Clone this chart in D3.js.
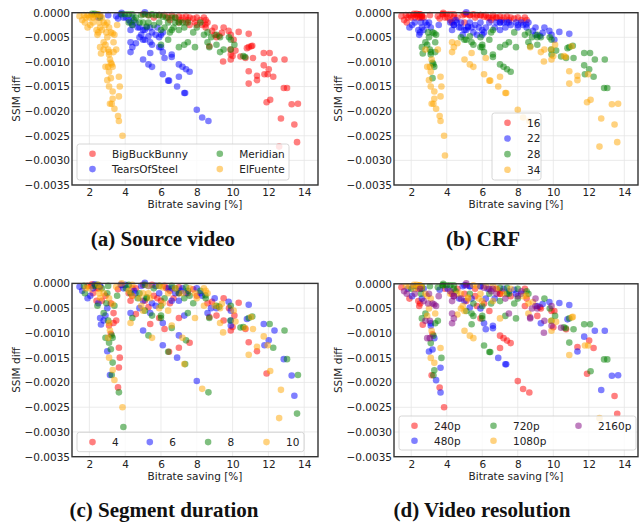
<!DOCTYPE html>
<html>
<head>
<meta charset="utf-8">
<script src="https://cdn.jsdelivr.net/npm/d3@7"></script>
<style>
body { margin: 0; background: #fff; }
svg text { font-family: "DejaVu Sans", sans-serif; fill: #222; }
</style>
</head>
<body>
<div id="drawing"></div>
<script>
// one row per encoding: [bitrate saving %, SSIM diff, CRF, segment duration s, resolution p]
const bigBuckBunny = [
    [5.0,-0.00003,16,4,480], [5.3,-0.00005,16,6,480], [5.6,-0.0001,16,8,240], [5.9,-0.00005,16,10,480],
    [6.2,-0.00005,16,4,1080], [6.4,-0.0001,16,6,2160], [6.6,-0.00005,16,8,1080], [6.8,-0.0001,16,10,240],
    [7.0,-0.00008,16,4,720], [7.2,-0.0001,16,6,480], [7.4,-0.00008,16,8,720], [7.6,-0.0001,16,10,1080],
    [7.8,-0.00012,16,4,480], [8.0,-0.0001,16,6,720], [8.2,-0.00015,16,8,2160], [8.4,-0.0001,16,10,240],
    [6.5,-0.00015,16,4,2160], [7.1,-0.00015,16,6,240], [7.5,-0.00015,16,8,480], [8.5,-0.00015,16,10,720],
    [7.0,-0.0002,22,4,240], [7.4,-0.0002,22,6,720], [7.6,-0.00025,22,8,240], [7.9,-0.0002,22,10,480],
    [8.0,-0.00025,22,4,2160], [8.3,-0.00025,22,6,1080], [8.5,-0.0003,22,8,240], [8.6,-0.0002,22,10,720],
    [8.85,-0.00037,22,4,1080], [9.0,-0.0003,22,6,2160], [9.25,-0.00047,22,8,240], [9.4,-0.00041,22,10,480],
    [9.5,-0.0003,22,4,720], [9.78,-0.00037,22,6,480], [9.9,-0.00045,22,8,2160], [10.06,-0.00055,22,10,240],
    [10.34,-0.00039,22,4,480], [10.9,-0.00043,22,6,480], [9.0,-0.00045,22,10,2160], [8.48,-0.00024,22,8,1080],
    [8.7,-0.00068,28,4,2160], [9.1,-0.0005,28,6,2160], [9.88,-0.00075,28,8,1080], [9.9,-0.00085,28,6,2160],
    [10.16,-0.00077,28,10,1080], [10.44,-0.00089,28,8,2160], [10.72,-0.00092,28,4,240], [10.8,-0.00072,28,6,480],
    [11.1,-0.00067,28,8,1080], [10.9,-0.0007,28,8,720], [11.14,-0.00092,28,10,720], [11.74,-0.00082,28,6,720],
    [12.07,-0.00082,28,8,720], [12.34,-0.00095,28,6,480], [12.9,-0.00095,28,8,480], [11.74,-0.00107,28,10,480],
    [12.02,-0.00115,28,6,240], [11.78,-0.00125,28,6,1080], [12.27,-0.0013,28,8,240], [12.86,-0.00153,28,6,720],
    [13.04,-0.00153,28,8,720],
    [9.47,-0.00099,34,10,2160], [9.9,-0.00095,34,4,1080], [10.0,-0.00088,34,4,240], [10.9,-0.00119,34,4,720],
    [10.9,-0.00144,34,10,1080], [11.36,-0.00128,34,10,240], [11.36,-0.00137,34,4,480], [11.96,-0.00125,34,10,1080],
    [11.9,-0.00182,34,4,240], [12.1,-0.00177,34,10,720], [12.7,-0.00215,34,10,480], [12.6,-0.00272,34,10,1080],
    [13.3,-0.00186,34,6,480], [13.65,-0.00185,34,8,480], [13.45,-0.00227,34,6,240], [13.6,-0.00263,34,8,240],
    [11.04,-0.00068,34,10,1080]
];
const tearsOfSteel = [
    [2.5,-0.0001,16,4,2160], [2.6,-0.00007,16,6,1080], [3.05,-0.00005,16,8,720], [3.5,-0.00007,16,10,720],
    [3.6,-0.00012,16,4,480], [3.9,-0.0001,16,6,240], [4.05,-0.0001,16,8,480], [4.2,-0.00015,16,10,2160],
    [4.4,-0.0001,16,4,720], [3.75,-0.00003,16,6,720], [4.3,-0.0002,16,8,240], [3.8,0.0,16,10,720],
    [4.4,-0.00025,22,4,2160], [4.57,-0.0002,22,6,1080], [4.7,-0.0003,22,8,480], [4.8,-0.0003,22,10,2160],
    [5.0,-0.00035,22,6,480], [5.1,-0.00035,22,4,240], [5.2,-0.0003,22,8,1080], [5.4,-0.0003,22,10,480],
    [5.5,-0.0004,22,6,720], [5.8,-0.0003,22,4,1080], [6.0,-0.00045,22,8,720], [6.1,-0.0004,22,10,240],
    [4.3,-0.00035,22,4,2160], [4.9,-0.00045,22,10,1080], [5.7,-0.00045,22,6,240], [5.1,0.00001,22,6,2160],
    [4.8,-0.0005,28,6,1080], [5.0,-0.00055,28,10,1080], [5.1,-0.00055,28,8,720], [5.3,-0.00048,28,4,480],
    [5.4,-0.0006,28,6,720], [5.5,-0.00065,28,8,720], [5.9,-0.0005,28,10,480], [5.9,-0.0007,28,4,240],
    [6.0,-0.0007,28,8,720], [6.1,-0.0008,28,6,480], [6.6,-0.00085,28,10,480], [6.6,-0.0009,28,8,480],
    [7.0,-0.00105,28,6,240], [7.2,-0.0011,28,10,240], [7.4,-0.00115,28,8,240], [7.6,-0.0012,28,4,240],
    [4.3,-0.0006,34,6,2160], [4.4,-0.0007,34,8,2160], [4.3,-0.0008,34,10,2160], [4.6,-0.00062,34,4,1080],
    [5.0,-0.00095,34,6,1080], [5.3,-0.00105,34,8,1080], [5.5,-0.0011,34,10,1080], [6.1,-0.00125,34,6,720],
    [6.4,-0.00138,34,8,720], [6.45,-0.00138,34,4,720], [6.9,-0.0015,34,6,480], [7.0,-0.0013,34,4,240],
    [7.3,-0.00163,34,10,480], [7.35,-0.00163,34,8,480], [8.0,-0.00197,34,6,240], [8.3,-0.00213,34,10,240],
    [8.65,-0.0022,34,8,240], [5.4,-0.00082,34,4,720], [6.2,-0.00092,34,4,480]
];
const meridian = [
    [2.15,-0.00002,16,4,1080], [2.3,-0.00002,16,6,1080], [2.45,-0.00003,16,8,1080], [2.6,-0.0001,16,10,720],
    [3.8,-0.00003,16,4,720], [4.0,-0.00003,16,6,720], [4.2,-0.00003,16,8,720], [4.4,-0.00003,16,10,720],
    [4.6,-0.0001,16,4,240], [4.9,-0.00005,16,6,480], [5.1,-0.00003,16,8,2160], [5.3,-0.00005,16,10,480],
    [5.5,-0.00003,16,4,1080], [5.7,-0.00005,16,6,1080], [5.9,-0.00005,16,8,480], [6.1,-0.00008,16,10,2160],
    [6.3,-0.0001,16,4,480], [6.6,-0.0001,16,6,2160], [6.8,-0.0001,16,8,1080], [5.0,-0.0002,16,10,240],
    [4.2,-0.0002,22,4,1080], [4.5,-0.00015,22,6,720], [4.8,-0.0002,22,8,1080], [5.3,-0.0002,22,10,720],
    [5.6,-0.00025,22,4,240], [5.9,-0.0002,22,6,1080], [6.2,-0.0003,22,8,480], [6.4,-0.0002,22,10,720],
    [6.7,-0.0003,22,4,480], [6.8,-0.0002,22,6,2160], [7.0,-0.0002,22,8,240], [7.2,-0.0002,22,10,1080],
    [7.5,-0.0002,22,4,720], [8.2,-0.0002,22,6,480], [7.3,-0.0003,22,8,2160], [8.0,-0.0003,22,10,720],
    [6.0,-0.00035,22,4,1080], [7.0,-0.00035,22,6,720], [5.2,-0.00028,22,8,1080], [4.4,-0.00025,22,10,2160],
    [6.5,-0.0004,28,4,720], [6.6,-0.00035,28,6,1080], [7.8,-0.0004,28,8,720], [8.4,-0.00045,28,10,240],
    [8.6,-0.0004,28,4,1080], [8.8,-0.0005,28,6,2160], [9.1,-0.00045,28,8,480], [9.3,-0.0005,28,10,240],
    [9.8,-0.0005,28,4,720], [9.9,-0.00055,28,6,240], [6.0,-0.00065,28,8,720], [6.4,-0.00055,28,10,240],
    [7.0,-0.0007,28,4,1080], [7.3,-0.00065,28,6,720], [7.5,-0.0006,28,8,2160], [7.9,-0.0007,28,10,720],
    [8.6,-0.0006,28,6,1080], [9.1,-0.00065,28,4,240],
    [8.7,-0.0007,34,8,2160], [9.3,-0.0008,34,10,480], [9.5,-0.00075,34,4,2160], [9.9,-0.00075,34,6,720],
    [10.6,-0.00088,34,8,720], [10.7,-0.0009,34,10,720], [10.1,-0.00065,34,4,720]
];
const elFuente = [
    [1.45,-0.00007,16,6,240], [1.6,-0.00015,16,6,2160], [1.7,-0.00005,16,8,1080], [1.75,-0.0002,16,8,2160],
    [1.8,-0.0001,16,10,480], [1.9,-0.00005,16,4,1080], [2.0,-0.0001,16,10,720], [2.1,-0.00005,16,4,480],
    [2.2,-0.0001,16,6,1080], [2.3,-0.00005,16,8,720], [2.4,-0.0001,16,4,240], [2.5,-0.00003,16,10,1080],
    [2.6,-0.00005,16,6,720], [2.7,-0.0001,16,8,480],
    [1.9,-0.0003,22,6,240], [2.05,-0.00025,22,6,480], [2.2,-0.0002,22,4,2160], [2.45,-0.00045,22,8,240],
    [2.5,-0.0004,22,6,240], [2.6,-0.0003,22,10,480], [2.7,-0.00035,22,4,2160], [2.8,-0.0002,22,10,1080],
    [2.9,-0.00025,22,4,1080], [3.0,-0.0002,22,8,2160], [2.55,-0.0002,22,10,720], [2.4,-0.00035,22,4,240],
    [3.1,-0.0003,22,10,1080], [3.55,-0.00025,22,8,2160],
    [2.6,-0.0007,28,6,720], [2.65,-0.00083,28,6,240], [2.8,-0.0006,28,8,720], [2.9,-0.00065,28,6,1080],
    [3.0,-0.0005,28,6,1080], [2.95,-0.0004,28,8,2160], [3.05,-0.00075,28,8,2160], [3.1,-0.0008,28,10,480],
    [3.1,-0.00085,28,4,480], [3.2,-0.0004,28,4,2160], [3.3,-0.00042,28,10,2160], [3.4,-0.00045,28,8,2160],
    [3.35,-0.0006,28,4,1080], [3.35,-0.0008,28,4,720], [3.2,-0.00102,28,4,240], [3.25,-0.00105,28,8,720],
    [3.3,-0.0011,28,8,480], [3.2,-0.00133,28,8,480],
    [2.8,-0.00075,34,6,2160], [3.5,-0.00075,34,4,720], [2.9,-0.0011,34,8,2160], [3.05,-0.0011,34,10,2160],
    [3.1,-0.0012,34,8,720], [3.0,-0.00137,34,6,480], [3.1,-0.0015,34,10,1080], [3.3,-0.0016,34,8,1080],
    [3.3,-0.00175,34,10,720], [3.15,-0.00185,34,6,240], [3.25,-0.00185,34,8,720], [3.4,-0.00195,34,10,480],
    [3.65,-0.0013,34,4,1080], [3.7,-0.0015,34,4,720], [3.65,-0.0017,34,4,480], [3.6,-0.0021,34,4,240],
    [3.65,-0.0022,34,8,480], [3.85,-0.0025,34,10,240], [3.9,-0.0029,34,8,240], [3.15,-0.00095,34,10,1080]
];

const videoNames = ["BigBuckBunny", "TearsOfSteel", "Meridian", "ElFuente"];
const crfValues = [16, 22, 28, 34];
const segmentValues = [4, 6, 8, 10];
const resolutionValues = [240, 480, 720, 1080, 2160];
const xTicks = [2, 4, 6, 8, 10, 12, 14];
const yTicks = [0, -0.0005, -0.001, -0.0015, -0.002, -0.0025, -0.003, -0.0035];

const width = 639, height = 523;
var svg = d3.select("#drawing").append("svg")
    .attr("width", width)
    .attr("height", height);

// flatten into one list, tagging the source video
var points = [];
[bigBuckBunny, tearsOfSteel, meridian, elFuente].forEach(function (rows, v) {
    rows.forEach(function (r) {
        points.push({x: r[0], y: r[1], video: v, crf: r[2], seg: r[3], res: r[4]});
    });
});

const panels = [
    {caption: "(a) Source video", left: 72, right: 318, top: 12.7, bottom: 185, capX: 163, capY: 246,
     field: "video", keys: [0, 1, 2, 3], labels: videoNames,
     colors: ["red", "blue", "green", "orange"],
     legend: {x: 77, y: 144, w: 212, h: 36, nrow: 2, cols: [0, 127.3], rowH: 15.3}},
    {caption: "(b) CRF", left: 394, right: 638, top: 12.7, bottom: 185, capX: 483, capY: 246,
     field: "crf", keys: crfValues, labels: crfValues.map(String),
     colors: ["red", "blue", "green", "orange"],
     legend: {x: 492, y: 113, w: 49, h: 67, nrow: 4, cols: [0], rowH: 15.67}},
    {caption: "(c) Segment duration", left: 72, right: 318, top: 283.4, bottom: 456.7, capX: 164, capY: 517,
     field: "seg", keys: segmentValues, labels: segmentValues.map(String),
     colors: ["red", "blue", "green", "orange"],
     legend: {x: 77, y: 432.3, w: 227, h: 19.4, nrow: 1, cols: [0, 57.3, 115.6, 174], rowH: 15}},
    {caption: "(d) Video resolution", left: 394, right: 638, top: 283.8, bottom: 456.7, capX: 482, capY: 517,
     field: "res", keys: resolutionValues, labels: resolutionValues.map(function (d) { return d + "p"; }),
     colors: ["red", "blue", "green", "orange", "purple"],
     legend: {x: 399, y: 416, w: 237, h: 34, nrow: 2, cols: [0, 79, 164], rowH: 15}}
];

const yFormat = d3.format(".4f");

function drawPanel(p) {
    var x = d3.scaleLinear().domain([1.03, 14.77]).range([p.left, p.right]);
    var y = d3.scaleLinear().domain([-0.0035, 0]).range([p.bottom, p.top]);
    var g = svg.append("g");

    // grid
    g.selectAll("line.gx").data(xTicks).enter().append("line")
        .attr("x1", d => x(d)).attr("x2", d => x(d))
        .attr("y1", p.top).attr("y2", p.bottom)
        .attr("stroke", "#e6e6e6").attr("stroke-width", 0.8);
    g.selectAll("line.gy").data(yTicks).enter().append("line")
        .attr("x1", p.left).attr("x2", p.right)
        .attr("y1", d => y(d)).attr("y2", d => y(d))
        .attr("stroke", "#e6e6e6").attr("stroke-width", 0.8);

    // axes
    var ax = g.append("g").attr("transform", "translate(0," + p.bottom + ")")
        .call(d3.axisBottom(x).tickValues(xTicks).tickSize(0).tickPadding(4));
    var ay = g.append("g").attr("transform", "translate(" + p.left + ",0)")
        .call(d3.axisLeft(y).tickValues(yTicks).tickSize(0).tickPadding(2).tickFormat(yFormat));
    [ax, ay].forEach(function (a) {
        a.select(".domain").remove();
        a.selectAll("text").style("font-family", "DejaVu Sans").style("font-size", "10.5px").attr("fill", "#222");
    });

    // points, one series after another
    p.keys.forEach(function (k, i) {
        g.selectAll(null).data(points.filter(d => d[p.field] === k)).enter().append("circle")
            .attr("cx", d => x(d.x))
            .attr("cy", d => y(d.y))
            .attr("r", 3.3)
            .attr("fill", p.colors[i])
            .attr("fill-opacity", 0.5);
    });

    // frame
    g.append("rect")
        .attr("x", p.left).attr("y", p.top)
        .attr("width", p.right - p.left).attr("height", p.bottom - p.top)
        .attr("fill", "none").attr("stroke", "#333").attr("stroke-width", 1.4);

    // labels
    g.append("text")
        .attr("x", (p.left + p.right) / 2).attr("y", p.bottom + 23)
        .attr("text-anchor", "middle").style("font-size", "10.5px")
        .text("Bitrate saving [%]");
    g.append("text")
        .attr("transform", "translate(" + (p.left - 52) + "," + ((p.top + p.bottom) / 2) + ") rotate(-90)")
        .attr("text-anchor", "middle").style("font-size", "10.5px")
        .text("SSIM diff");
    g.append("text")
        .attr("x", p.capX).attr("y", p.capY)
        .attr("text-anchor", "middle")
        .style("font-family", "'Liberation Serif', serif").style("font-weight", "bold").style("font-size", "21px")
        .style("fill", "#111")
        .text(p.caption);

    // legend
    var L = p.legend;
    var lg = g.append("g");
    lg.append("rect")
        .attr("x", L.x).attr("y", L.y).attr("width", L.w).attr("height", L.h)
        .attr("rx", 2.5)
        .attr("fill", "white").attr("fill-opacity", 0.8)
        .attr("stroke", "#cccccc").attr("stroke-width", 0.8);
    p.labels.forEach(function (label, i) {
        var col = Math.floor(i / L.nrow), row = i % L.nrow;
        var mx = L.x + 15.5 + L.cols[col];
        var my = L.y + 9.8 + row * L.rowH;
        lg.append("circle").attr("cx", mx).attr("cy", my).attr("r", 3.3)
            .attr("fill", p.colors[i]).attr("fill-opacity", 0.5);
        lg.append("text").attr("x", mx + 19.5).attr("y", my + 3.8)
            .style("font-size", "10.5px").text(label);
    });
}

panels.forEach(drawPanel);
</script>
</body>
</html>
